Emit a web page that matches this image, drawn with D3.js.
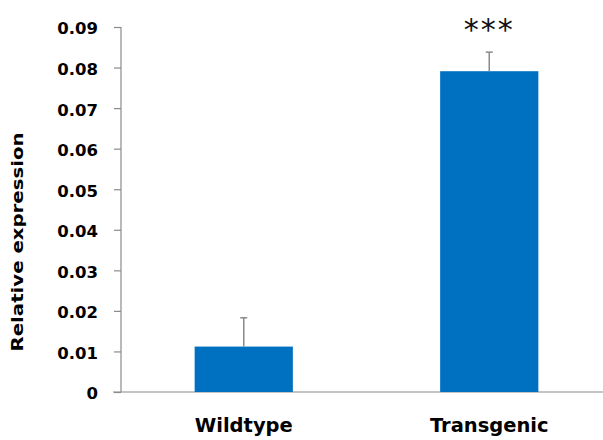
<!DOCTYPE html>
<html>
<head>
<meta charset="utf-8">
<script src="https://cdn.jsdelivr.net/npm/d3@7"></script>
<style>
  html, body { margin: 0; padding: 0; background: #fff; }
  svg { display: block; }
</style>
</head>
<body>
<svg id="chart" width="603" height="440"></svg>
<script>
// Expression data
const categories = ["Wildtype", "Transgenic"];
const means = [0.0112, 0.0791];
const errors = [0.0071, 0.0047];
const significance = ["", "***"];
const yTicks = [0, 0.01, 0.02, 0.03, 0.04, 0.05, 0.06, 0.07, 0.08, 0.09];
const yTickLabels = ["0", "0.01", "0.02", "0.03", "0.04", "0.05", "0.06", "0.07", "0.08", "0.09"];
const yTitle = "Relative expression";

const svg = d3.select("#chart");
const axisColor = "#8a8a8a";
const barColor = "#0070C0";
const font = "'DejaVu Sans', sans-serif";

const y = d3.scaleLinear().domain([0, 0.09]).range([392, 27]);
const x = d3.scaleBand().domain(categories).range([121, 612])
  .paddingInner(0.6).paddingOuter(0.3);

// Y axis
const yAxis = d3.axisLeft(y)
  .tickValues(yTicks)
  .tickFormat((d, i) => yTickLabels[i])
  .tickSize(7)
  .tickPadding(16);
const gy = svg.append("g").attr("transform", "translate(121,0)").call(yAxis);
gy.select(".domain").attr("stroke", axisColor).attr("stroke-width", 1.2)
  .attr("d", `M0,${y(0.09)}V${y(0)}`);
gy.selectAll(".tick line").attr("stroke", axisColor).attr("stroke-width", 1.2);
gy.selectAll(".tick text")
  .attr("font-family", font).attr("font-weight", "bold")
  .attr("font-size", 16.5).attr("fill", "#000").attr("dy", "0.42em");

// X axis baseline
svg.append("line")
  .attr("x1", 113).attr("x2", 612)
  .attr("y1", y(0)).attr("y2", y(0))
  .attr("stroke", axisColor).attr("stroke-width", 1.2);

// Bars
svg.selectAll("rect.bar").data(categories).join("rect")
  .attr("class", "bar")
  .attr("x", d => x(d))
  .attr("width", x.bandwidth())
  .attr("y", (d, i) => y(means[i]))
  .attr("height", (d, i) => y(0) - y(means[i]))
  .attr("fill", barColor);

// Upper error bars
const eb = svg.selectAll("g.err").data(categories).join("g").attr("class", "err");
eb.append("line")
  .attr("x1", d => x(d) + x.bandwidth() / 2)
  .attr("x2", d => x(d) + x.bandwidth() / 2)
  .attr("y1", (d, i) => y(means[i]))
  .attr("y2", (d, i) => y(means[i] + errors[i]))
  .attr("stroke", axisColor).attr("stroke-width", 1.5);
eb.append("line")
  .attr("x1", d => x(d) + x.bandwidth() / 2 - 3.5)
  .attr("x2", d => x(d) + x.bandwidth() / 2 + 3.5)
  .attr("y1", (d, i) => y(means[i] + errors[i]))
  .attr("y2", (d, i) => y(means[i] + errors[i]))
  .attr("stroke", axisColor).attr("stroke-width", 1.5);

// Significance markers
svg.selectAll("text.sig").data(categories).join("text")
  .attr("class", "sig")
  .attr("x", d => x(d) + x.bandwidth() / 2)
  .attr("y", 40)
  .attr("text-anchor", "middle")
  .attr("font-family", font)
  .attr("font-size", 30)
  .attr("letter-spacing", 2)
  .attr("fill", "#111")
  .text((d, i) => significance[i]);

// Category labels
svg.selectAll("text.cat").data(categories).join("text")
  .attr("class", "cat")
  .attr("x", d => x(d) + x.bandwidth() / 2)
  .attr("y", 432)
  .attr("text-anchor", "middle")
  .attr("font-family", font).attr("font-weight", "bold")
  .attr("font-size", 19.5).attr("fill", "#000")
  .text(d => d);

// Y axis title
svg.append("text")
  .attr("transform", "translate(23,242) rotate(-90)")
  .attr("text-anchor", "middle")
  .attr("font-family", font).attr("font-weight", "bold")
  .attr("font-size", 15.5)
  .attr("textLength", 219).attr("lengthAdjust", "spacingAndGlyphs")
  .attr("fill", "#000")
  .text(yTitle);
</script>
</body>
</html>
